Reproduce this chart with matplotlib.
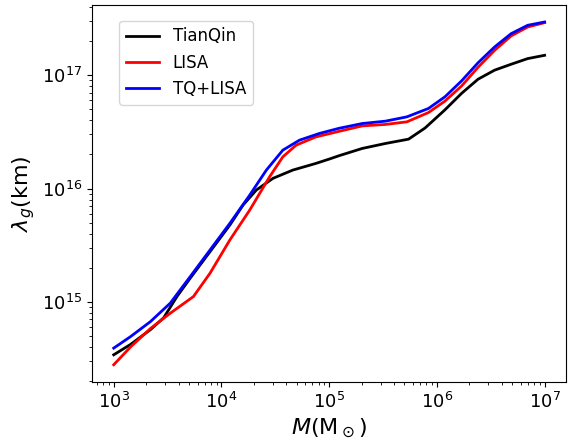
import matplotlib
matplotlib.use('Agg')
import matplotlib.pyplot as plt
import numpy as np

# log10 of black hole mass (solar masses) and log10 of lambda_g bound (km)
logM_tq = [3.0, 3.157, 3.341, 3.464, 3.587, 3.710, 3.894, 4.078, 4.201, 4.324, 4.478, 4.662, 4.877,
           5.0, 5.092, 5.307, 5.523, 5.737, 5.891, 6.075, 6.229, 6.382, 6.536, 6.689, 6.843, 7.0]
loglam_tq = [14.533, 14.625, 14.755, 14.860, 15.047, 15.209, 15.443, 15.678, 15.855, 15.987, 16.090, 16.163, 16.222,
             16.260, 16.290, 16.354, 16.398, 16.436, 16.535, 16.695, 16.840, 16.965, 17.045, 17.097, 17.147, 17.176]

logM_lisa = [3.0, 3.157, 3.341, 3.525, 3.740, 3.894, 4.078, 4.263, 4.447, 4.570, 4.693, 4.877,
             5.092, 5.307, 5.523, 5.722, 5.922, 6.075, 6.229, 6.382, 6.536, 6.689, 6.843, 7.0]
loglam_lisa = [14.445, 14.603, 14.765, 14.900, 15.047, 15.253, 15.546, 15.811, 16.104, 16.280, 16.383, 16.456,
               16.505, 16.553, 16.566, 16.589, 16.671, 16.772, 16.905, 17.070, 17.220, 17.347, 17.426, 17.464]

logM_joint = [3.0, 3.157, 3.341, 3.525, 3.710, 3.894, 4.078, 4.263, 4.417, 4.570, 4.724, 4.908,
              5.092, 5.307, 5.523, 5.722, 5.922, 6.075, 6.229, 6.382, 6.536, 6.689, 6.843, 7.0]
loglam_joint = [14.592, 14.694, 14.826, 14.989, 15.223, 15.458, 15.693, 15.943, 16.163, 16.339, 16.427, 16.486,
                16.532, 16.574, 16.595, 16.633, 16.707, 16.810, 16.950, 17.110, 17.250, 17.367, 17.441, 17.470]

fig = plt.figure(figsize=(5.69, 4.41), dpi=100)
ax = fig.add_axes([0.162, 0.134, 0.833, 0.855])

ax.plot(np.power(10, logM_tq), np.power(10, loglam_tq), color='black', lw=2, label='TianQin')
ax.plot(np.power(10, logM_lisa), np.power(10, loglam_lisa), color='red', lw=2, label='LISA')
ax.plot(np.power(10, logM_joint), np.power(10, loglam_joint), color='blue', lw=2, label='TQ+LISA')

ax.set_xscale('log')
ax.set_yscale('log')
ax.set_xlabel(r'$M(\mathrm{M}_\odot)$', fontsize=16)
ax.set_ylabel(r'$\lambda_g$(km)', fontsize=16)
ax.tick_params(labelsize=13)

ax.legend(loc='upper left', bbox_to_anchor=(0.04, 0.98), fontsize=12)

plt.savefig('out.png', dpi=100)
